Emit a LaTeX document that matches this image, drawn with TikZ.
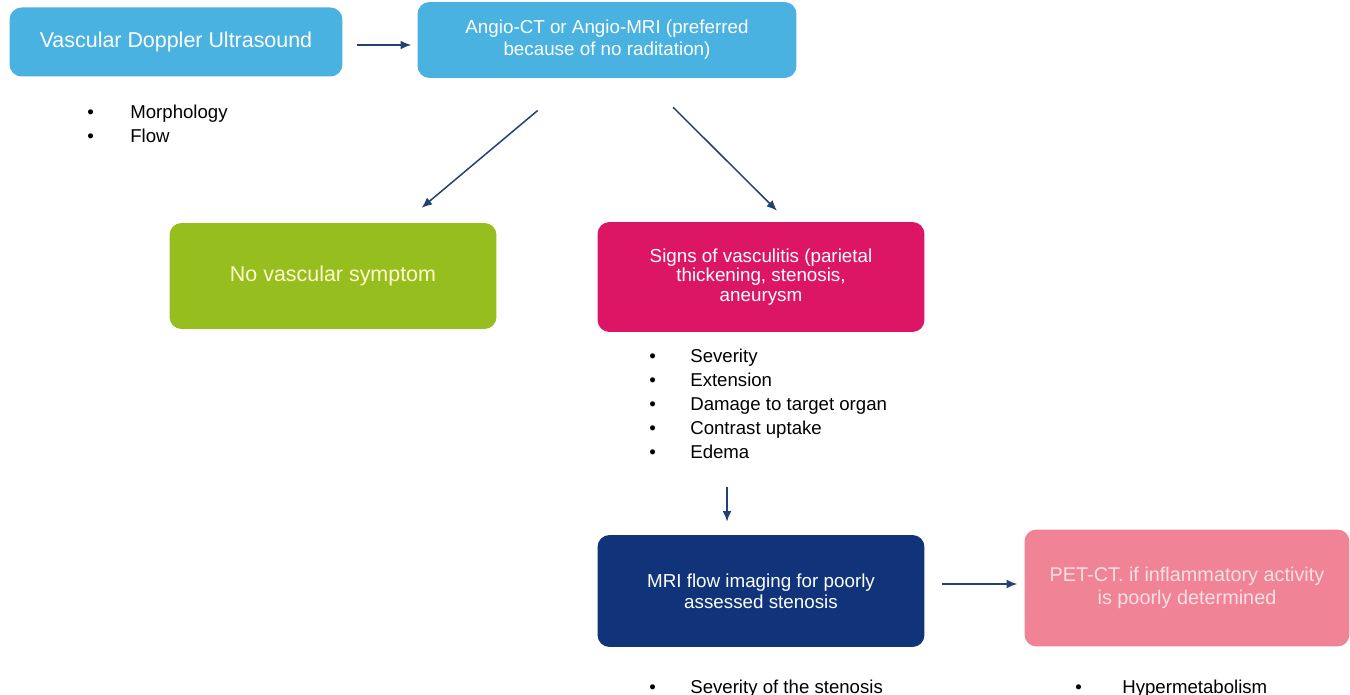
\documentclass[tikz,border=0pt]{standalone}
\usepackage{fontspec}
\setmainfont{Liberation Sans}
\usetikzlibrary{arrows.meta}

\definecolor{skyblue}{HTML}{49B2E1}
\definecolor{leafgreen}{HTML}{97BE1F}
\definecolor{rosered}{HTML}{DC1665}
\definecolor{navyblue}{HTML}{10337A}
\definecolor{softpink}{HTML}{F08396}
\definecolor{arrowblue}{HTML}{23416F}

\tikzset{
  box/.style={rounded corners=0.24cm, align=center, text=white, inner sep=2pt,
    font=\fontsize{10.7}{12.5}\selectfont},
  arr/.style={draw=arrowblue, line width=0.85pt, -{Latex[length=6pt,width=5pt]}},
  blist/.style={anchor=north west, inner sep=0pt, font=\fontsize{10.6}{13.66}\selectfont}
}

\begin{document}
\begin{tikzpicture}[x=0.02cm, y=-0.02cm]

  \small
  \useasboundingbox (0,0) rectangle (1350,695);

  \node[box, fill=skyblue, minimum width=6.66cm, minimum height=1.38cm,
    font=\fontsize{12.2}{14}\selectfont] (doppler) at (176,42) {Vascular Doppler Ultrasound};
  \node[box, fill=skyblue, minimum width=7.58cm, minimum height=1.52cm] (angio) at (607,40)
    {Angio-CT or Angio-MRI (preferred\\because of no raditation)};
  \node[box, fill=leafgreen, minimum width=6.54cm, minimum height=2.12cm,
    text=white!80!yellow, font=\fontsize{12.2}{14}\selectfont] (novasc) at (333,276) {No vascular symptom};
  \node[box, fill=rosered, minimum width=6.54cm, minimum height=2.2cm,
    font=\fontsize{10.7}{11.2}\selectfont] (signs) at (761,277)
    {Signs of vasculitis (parietal\\thickening, stenosis,\\aneurysm};
  \node[box, fill=navyblue, minimum width=6.54cm, minimum height=2.24cm,
    font=\fontsize{10.7}{12}\selectfont] (mri) at (761,591)
    {MRI flow imaging for poorly\\assessed stenosis};
  \node[box, fill=softpink, minimum width=6.5cm, minimum height=2.34cm,
    text=white!75!softpink, font=\fontsize{11.3}{13.5}\selectfont] (pet) at (1187,588)
    {PET-CT. if inflammatory activity\\is poorly determined};

  %% bullet lists
  \node[blist] (dopplerlist) at (87,101) {\begin{tabular}{@{}p{0.86cm}@{}l@{}}
    \textbullet & Morphology\\ \textbullet & Flow\end{tabular}};
  \node[blist] (signslist) at (649,345) {\begin{tabular}{@{}p{0.82cm}@{}l@{}}
    \textbullet & Severity\\ \textbullet & Extension\\ \textbullet & Damage to target organ\\
    \textbullet & Contrast uptake\\ \textbullet & Edema\end{tabular}};
  \node[blist] (mrilist) at (649,676) {\begin{tabular}{@{}p{0.82cm}@{}l@{}}
    \textbullet & Severity of the stenosis\end{tabular}};
  \node[blist] (petlist) at (1075,676) {\begin{tabular}{@{}p{0.94cm}@{}l@{}}
    \textbullet & Hypermetabolism\end{tabular}};

  %% arrows
  \draw[arr, shorten <=0.28cm, shorten >=0.12cm]
    ([yshift=-0.06cm]doppler.east) -- ([yshift=-0.06cm]doppler.east -| angio.west); %% doppler->angio
  \draw[arr, shorten <=1cm, shorten >=0.46cm]
    ([xshift=-0.62cm]angio.south) -- ([xshift=1.42cm]novasc.north); %% angio->novasc
  \draw[arr, shorten <=0.82cm, shorten >=0.31cm]
    ([xshift=0.74cm]angio.south) -- ([xshift=0.54cm]signs.north); %% angio->signs
  \draw[arr, shorten <=0.42cm, shorten >=0.26cm]
    ([xshift=-0.68cm]mri.north |- signslist.south) -- ([xshift=-0.68cm]mri.north); %% list->mri
  \draw[arr, shorten <=0.34cm, shorten >=0.14cm]
    ([yshift=0.14cm]mri.east) -- ([yshift=0.14cm]mri.east -| pet.west); %% mri->pet

\end{tikzpicture}
\end{document}
